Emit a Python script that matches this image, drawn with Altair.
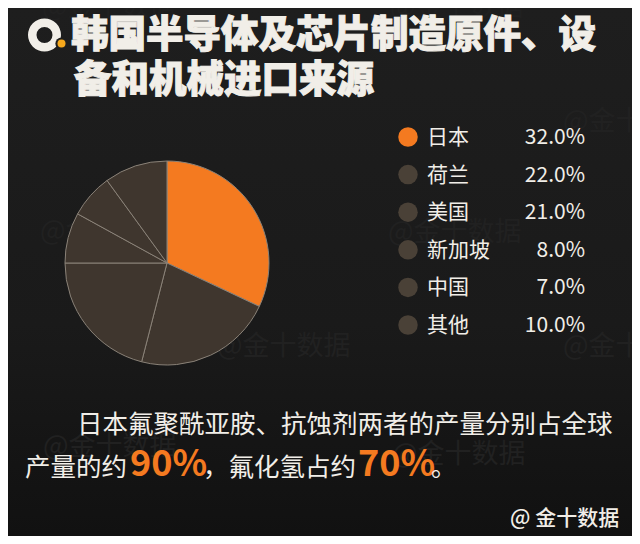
import altair as alt
import pandas as pd

# ---- data ----
countries = ["日本", "荷兰", "美国", "新加坡", "中国", "其他"]
shares = [32.0, 22.0, 21.0, 8.0, 7.0, 10.0]
share_labels = ["32.0%", "22.0%", "21.0%", "8.0%", "7.0%", "10.0%"]
title_lines = ["韩国半导体及芯片制造原件、设", "备和机械进口来源"]
note_line1 = "日本氟聚酰亚胺、抗蚀剂两者的产量分别占全球"
note_parts = ["产量的约", "90%", "，氟化氢占约", "70%", "。"]
source_text = "@ 金十数据"
watermark_text = "@金十数据"

ORANGE = "#f47a20"
DARK = "#3f362e"
WHITE = "#f1eee8"
FONT = "Noto Sans CJK SC"
OFF = 8  # page margin
W, H = 624, 528

df = pd.DataFrame({
    "country": countries,
    "share": shares,
    "label": share_labels,
    "idx": list(range(len(countries))),
})
color_scale = alt.Scale(domain=countries, range=[ORANGE] + [DARK] * 5)
legend_scale = alt.Scale(domain=countries, range=[ORANGE] + ["#4a4137"] * 5)


def txt(text, x, y, size, color, weight="normal", align="left", baseline="alphabetic", stroke_w=0):
    kw = {}
    if stroke_w:
        kw = {"stroke": color, "strokeWidth": stroke_w}
    return alt.Chart(pd.DataFrame({"t": [text]})).mark_text(
        align=align, baseline=baseline, fontSize=size, fontWeight=weight,
        color=color, font=FONT, **kw
    ).encode(x=alt.value(x - OFF), y=alt.value(y - OFF), text="t:N")


one = pd.DataFrame({"a": [0]})

# background with slight vertical gradient
bg = alt.Chart(one).mark_rect(
    color=alt.Gradient(
        gradient="linear", x1=0, y1=0, x2=0, y2=1,
        stops=[alt.GradientStop(color="#1e1e1e", offset=0),
               alt.GradientStop(color="#1a1a1a", offset=0.6),
               alt.GradientStop(color="#111111", offset=1)],
    )
).encode(x=alt.value(0), x2=alt.value(W), y=alt.value(0), y2=alt.value(H))

# faint watermarks
wm_pos = [(42, 8), (390, 8), (563, 122), (40, 232), (388, 233),
          (217, 347), (563, 347), (43, 447), (392, 455)]
watermarks = [txt(watermark_text, x, y, 27, "#212121", baseline="middle") for x, y in wm_pos]

# pie
pie = alt.Chart(df).mark_arc(outerRadius=102, stroke="#8a8278", strokeWidth=1).encode(
    theta=alt.Theta("share:Q", stack=True),
    color=alt.Color("country:N", scale=color_scale, legend=None),
    order=alt.Order("idx:Q"),
    x=alt.value(167 - OFF), y=alt.value(263 - OFF),
)

# legend
yscale = alt.Scale(domain=[0, 5], range=[137 - OFF, 325 - OFF])
leg_dots = alt.Chart(df).mark_circle(size=380, opacity=1).encode(
    x=alt.value(408 - OFF),
    y=alt.Y("idx:Q", scale=yscale, axis=None),
    color=alt.Color("country:N", scale=legend_scale, legend=None),
)
leg_names = alt.Chart(df).mark_text(align="left", baseline="middle", fontSize=21, color=WHITE, font=FONT, dy=1).encode(
    x=alt.value(427 - OFF),
    y=alt.Y("idx:Q", scale=yscale, axis=None),
    text="country:N",
)
leg_vals = alt.Chart(df).mark_text(align="right", baseline="middle", fontSize=21, color=WHITE, font=FONT, dy=1).encode(
    x=alt.value(585 - OFF),
    y=alt.Y("idx:Q", scale=yscale, axis=None),
    text="label:N",
)

# logo
logo_ring = alt.Chart(one).mark_arc(
    theta=0, theta2=6.2832, radius=16.5, radius2=8, color=WHITE
).encode(x=alt.value(44.5 - OFF), y=alt.value(35 - OFF))
logo_halo = alt.Chart(one).mark_circle(size=150, color="#1e1e1e", opacity=1).encode(
    x=alt.value(61.5 - OFF), y=alt.value(43.5 - OFF))
logo_dot = alt.Chart(one).mark_circle(size=64, color="#f6a81c", opacity=1).encode(
    x=alt.value(61.5 - OFF), y=alt.value(43.5 - OFF))

# title
title1 = txt(title_lines[0], 71, 36, 37.5, WHITE, weight=900, baseline="middle", stroke_w=1)
title2 = txt(title_lines[1], 74, 80.5, 37.5, WHITE, weight=900, baseline="middle", stroke_w=1)

# note
note1 = txt(note_line1, 77, 433, 25.5, WHITE)
part_x = [25, 130, 203, 358, 431]
part_style = [(25.5, WHITE, "normal"), (36, ORANGE, "bold"), (25.5, WHITE, "normal"),
              (36, ORANGE, "bold"), (25.5, WHITE, "normal")]
note2 = [txt(p, x, 476, s, c, weight=w) for p, x, (s, c, w) in zip(note_parts, part_x, part_style)]

source = txt(source_text, 510, 519, 21, WHITE, weight=500, baseline="middle")

chart = alt.layer(
    bg, *watermarks, pie, leg_dots, leg_names, leg_vals, logo_ring, logo_halo, logo_dot,
    title1, title2, note1, *note2, source
).properties(
    width=W, height=H, padding=0, background="#1b1b1b",
    autosize=alt.AutoSizeParams(type="none"),
).configure_view(stroke=None).resolve_scale(color="independent")

chart.save("out.html", embed_options={"renderer": "svg", "actions": False})
